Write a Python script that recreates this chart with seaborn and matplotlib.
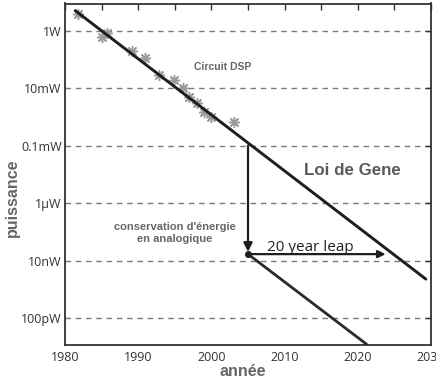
import matplotlib
matplotlib.use("Agg")
import matplotlib.pyplot as plt
import seaborn as sns
import pandas as pd
from matplotlib.ticker import FixedLocator, MultipleLocator, NullLocator

# ---- data ----
dsp_years = [1981.8, 1985.0, 1985.7, 1989.1, 1990.9, 1992.9, 1994.9, 1996.1,
             1997.0, 1998.0, 1999.0, 1999.9, 2003.1]
dsp_power = [3.8, 0.59, 0.85, 0.19, 0.11, 0.029, 0.020, 0.010,
             0.0049, 0.0031, 0.0015, 0.0010, 0.00066]
gene_years = [1981.4, 2029.3]
gene_power = [5.0, 2.3e-9]
analog_years = [2005.0, 2021.2]
analog_power = [1.7e-8, 1.25e-11]
leap_year_start = 2005.0
leap_year_end = 2023.8
leap_power_from = 1e-4
leap_power_to = 1.7e-8
ytick_values = [1, 1e-2, 1e-4, 1e-6, 1e-8, 1e-10]
ytick_labels = ["1W", "10mW", "0.1mW", "1µW", "10nW", "100pW"]
xtick_values = [1980, 1990, 2000, 2010, 2020, 2030]

sns.set_style("white")
plt.rcParams['font.family'] = ['Open Sans', 'DejaVu Sans']

fig = plt.figure(figsize=(4.36, 3.83), dpi=100)
ax = fig.add_axes([65 / 436, 1 - 345 / 383, 366 / 436, 341.5 / 383])
ax.set_yscale('log')
ax.set_xlim(1980, 2030)
ax.set_ylim(10 ** -10.93, 10 ** 0.946)

# dashed horizontal grid at labelled ticks
for v in ytick_values:
    ax.axhline(v, color='#7a7a7a', lw=1.0, ls=(0, (4.0, 3.4)), zorder=0)

dark = '#1e1e1e'
gray_txt = '#666666'

df_dsp = pd.DataFrame({'year': dsp_years, 'power': dsp_power})
df_gene = pd.DataFrame({'year': gene_years, 'power': gene_power})
df_analog = pd.DataFrame({'year': analog_years, 'power': analog_power})

sns.scatterplot(data=df_dsp, x='year', y='power', marker=(8, 2, 0), s=50,
                color='#9a9a9a', linewidth=1.1, ax=ax, zorder=2, legend=False)
sns.lineplot(data=df_gene, x='year', y='power', color=dark, lw=2.1, ax=ax,
             zorder=3, legend=False)
sns.lineplot(data=df_analog, x='year', y='power', color='#2a2a2a', lw=2.0, ax=ax,
             zorder=3, legend=False)

# arrows
ax.annotate("", xy=(leap_year_start, leap_power_to * 1.2),
            xytext=(leap_year_start, leap_power_from),
            arrowprops=dict(arrowstyle="-|>", color=dark, lw=1.6,
                            mutation_scale=13, shrinkA=0, shrinkB=0), zorder=4)
ax.annotate("", xy=(leap_year_end, leap_power_to),
            xytext=(leap_year_start, leap_power_to),
            arrowprops=dict(arrowstyle="-|>", color=dark, lw=1.6,
                            mutation_scale=11, shrinkA=0, shrinkB=0), zorder=4)
ax.plot([leap_year_start], [leap_power_to], 'o', color=dark, ms=4, zorder=5)

# text annotations
ax.text(2001.6, 0.055, "Circuit DSP", ha='center', va='center',
        fontsize=7.5, fontweight='bold', color=gray_txt, family='Liberation Sans')
ax.text(2019.3, 1.4e-5, "Loi de Gene", ha='center', va='center',
        fontsize=12.2, fontweight='bold', color='#5a5a5a', family='Liberation Sans')
ax.text(1995.0, 8.9e-8, "conservation d'énergie\nen analogique", ha='center',
        va='center', fontsize=8, fontweight='bold', color=gray_txt,
        family='Liberation Sans', linespacing=1.25)
ax.text(2007.6, 2.2e-8, "20 year leap", ha='left', va='baseline',
        fontsize=11, color='#222222')

# axes styling
ax.yaxis.set_major_locator(FixedLocator(ytick_values))
ax.yaxis.set_minor_locator(NullLocator())
ax.set_yticklabels(ytick_labels)
ax.xaxis.set_major_locator(FixedLocator(xtick_values))
ax.xaxis.set_minor_locator(MultipleLocator(5))
ax.tick_params(axis='both', which='both', direction='in', top=True, right=True,
               color='#333333', width=1.0)
ax.tick_params(axis='both', which='major', length=4, labelsize=9,
               labelcolor='#333333')
ax.tick_params(axis='x', which='minor', length=4)
ax.tick_params(axis='x', which='major', pad=4.5)
ax.tick_params(axis='y', which='major', pad=2.5)
for s in ax.spines.values():
    s.set_color('#333333')
    s.set_linewidth(1.3)

ax.set_xlabel("année", fontsize=11.5, fontweight='bold', color=gray_txt,
              family='Liberation Sans')
ax.set_ylabel("puissance", fontsize=11.5, fontweight='bold', color=gray_txt,
              family='Liberation Sans')
ax.xaxis.set_label_coords(0.486, -0.056)
ax.yaxis.set_label_coords(-0.123, 0.432)

fig.savefig("out.png", dpi=100)
